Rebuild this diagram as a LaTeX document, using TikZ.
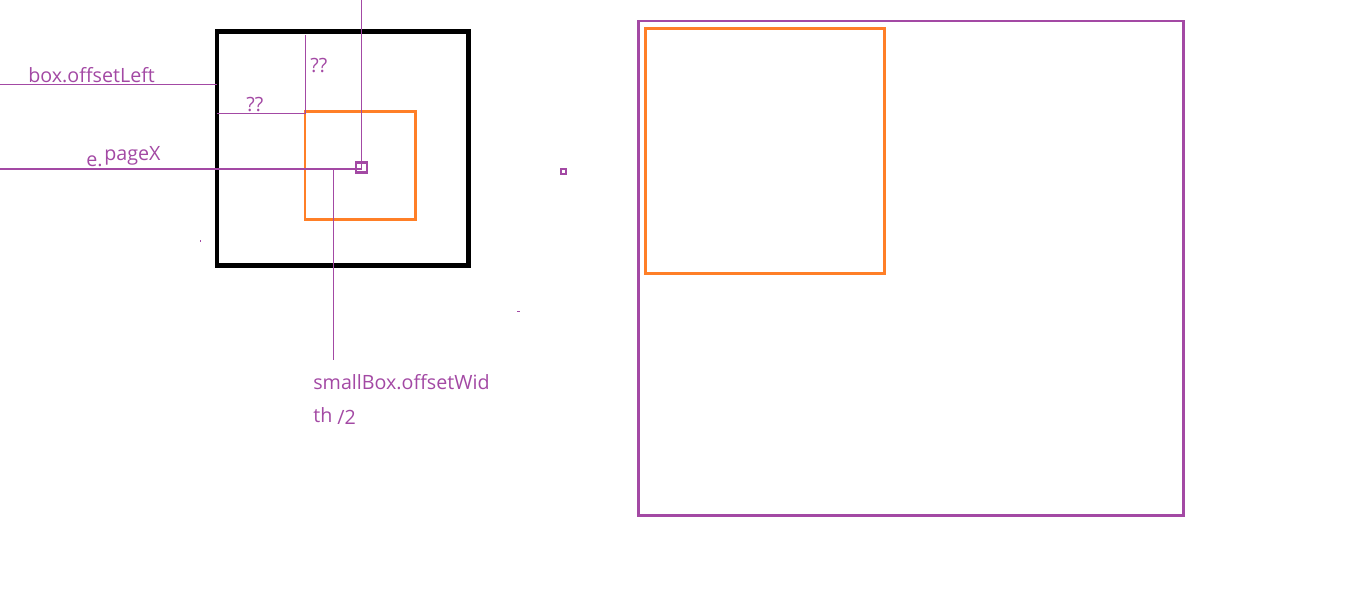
\documentclass[tikz,border=0pt]{standalone}
\usepackage{fontspec}
\setmainfont{Open Sans}
\usepackage{tikz}
\usetikzlibrary{positioning,calc}
\usepackage{xcolor}

\definecolor{paintpurple}{HTML}{A349A4}
\definecolor{paintorange}{HTML}{FF7F27}

\tikzset{
  guide/.style={paintpurple,line width=0.6pt},
  lbl/.style={paintpurple,font=\fontsize{11.2}{12}\selectfont,inner sep=0pt,anchor=base west},
  outerbox/.style={draw=black,line width=2.55pt},
  innerbox/.style={draw=paintorange,line width=1.7pt},
  pagebox/.style={draw=paintpurple,line width=1.7pt}
}

\begin{document}
\begin{tikzpicture}[x=0.02cm,y=-0.02cm]
    \useasboundingbox (0,0) rectangle (1360,591);

    % Outer box and the small box inside it
    \draw[outerbox] (217,31.5) rectangle (468.5,265.5);
    \draw[innerbox] (305,111.7) rectangle (415.3,219.5);

    % Mouse point
    \draw[paintpurple,line width=1.6pt] (356,162.5) rectangle (367,172.5);
    \coordinate (mouse) at (361.7,169);

    % Reference points
    \coordinate (top) at (361.7,0);
    \coordinate (leftX) at (0,169);
    \coordinate (leftB) at (0,84.5);
    \coordinate (boxL) at (217,84.5);
    \coordinate (sbTL) at (305.7,113.3);
    \coordinate (sbUp) at (305.7,35);
    \coordinate (boxIn) at (217,113.3);
    \coordinate (midTop) at (333.3,169);
    \coordinate (midBot) at (333.3,360);

    % Guide lines
    \draw[guide] (top) -- (mouse);
    \draw[guide] (leftX) -- (mouse);
    \draw[guide] (leftB) -- (boxL);
    \draw[guide] (boxIn) -- (sbTL);
    \draw[guide] (sbUp) -- (sbTL);
    \draw[guide] (midTop) -- (midBot);

    % Labels
    \node[lbl] (offL) at (28,83) {box.offsetLeft};
    \node[lbl] (q1) at (310,73) {??};
    \node[lbl] (q2) at (246,112) {??};
    \node[lbl] (ee) at (86,167) {e.};
    \node[lbl] (pgx) at (104,161) {pageX};
    \node[lbl] (sbw) at (313,390) {smallBox.offsetWid};
    \node[lbl] (th) at (313,422) {th};
    \node[lbl] (half) at (337,424) {/2};

    % Stray marks
    \draw[paintpurple,line width=1.6pt] (561,169) rectangle (566,174);
    \fill[paintpurple] (517,311.5) rectangle (519.5,312.5);
    \fill[paintpurple] (199.5,240) rectangle (200.5,242);

    % Page with the moved box
    \draw[pagebox] (638.5,21) rectangle (1183.5,515.5);
    \draw[innerbox] (645.5,28.5) rectangle (884.5,273.5);
  \end{tikzpicture}
\end{document}
